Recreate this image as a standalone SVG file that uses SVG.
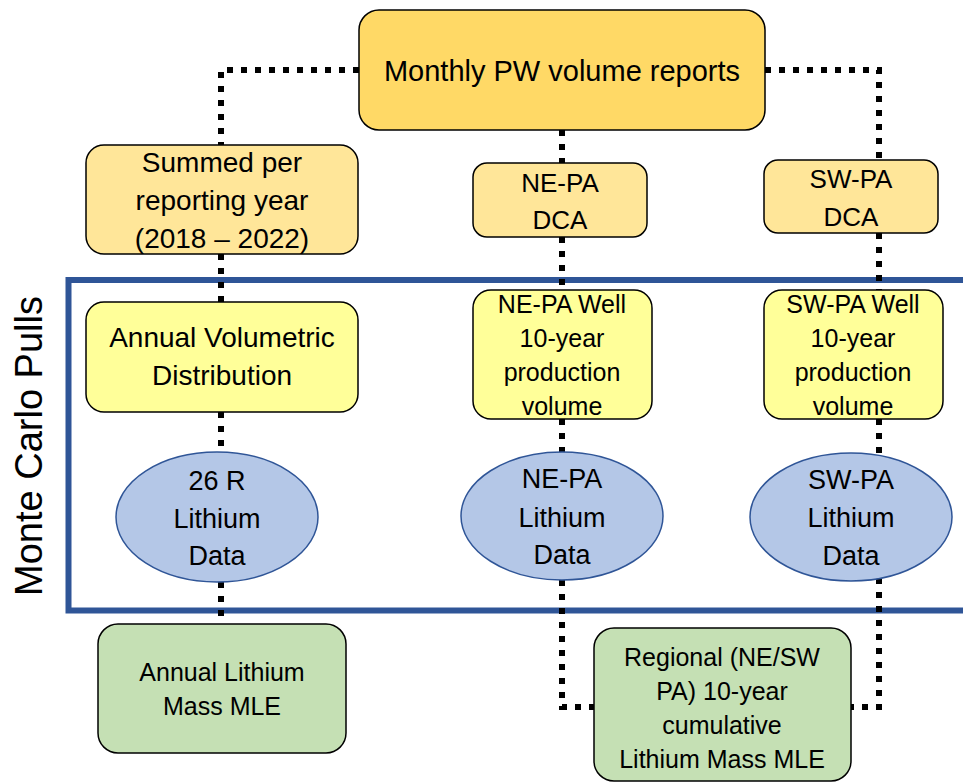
<svg xmlns="http://www.w3.org/2000/svg" width="963" height="783" viewBox="0 0 963 783">
<style>
text{font-family:"Liberation Sans",Arial,sans-serif;fill:#000;text-anchor:middle}
.box{stroke:#000;stroke-width:1.5}
.gold{fill:#FFD966}
.lgold{fill:#FFE699}
.yel{fill:#FFFF99}
.grn{fill:#C5E0B4}
.ell{fill:#B4C7E7;stroke:#2F5597;stroke-width:1.5}
.con{fill:none;stroke:#000;stroke-width:6;stroke-dasharray:6 8}
</style>
<rect id="frame" x="68.5" y="280" width="910" height="330.5" fill="none" stroke="#2F5597" stroke-width="6"/>
<text id="mc-label" transform="translate(42,446) rotate(-90)" font-size="38">Monte Carlo Pulls</text>
<g id="connectors">
<path class="con" d="M359,70 H221 V145"/>
<path class="con" d="M765,70 H879 V160"/>
<path class="con" d="M562,130 V163"/>
<path class="con" d="M221,254 V302"/>
<path class="con" d="M562,237 V290"/>
<path class="con" d="M879,233 V290"/>
<path class="con" d="M221,412 V452"/>
<path class="con" d="M562,419 V452"/>
<path class="con" d="M879,419 V455"/>
<path class="con" d="M221,582 V624"/>
<path class="con" d="M562,580 V707 H594"/>
<path class="con" d="M879,578 V707 H851"/>
</g>
<g id="monthly">
<rect class="box gold" x="359" y="10" width="406" height="120" rx="20"/>
<text x="562" y="81" font-size="29">Monthly PW volume reports</text>
</g>
<g id="summed">
<rect class="box lgold" x="86" y="145" width="272" height="109" rx="18"/>
<text x="222" y="172" font-size="28">Summed per</text>
<text x="222" y="210" font-size="28">reporting year</text>
<text x="222" y="248" font-size="28">(2018 – 2022)</text>
</g>
<g id="ne-dca">
<rect class="box lgold" x="473" y="163" width="174" height="74" rx="14"/>
<text x="560" y="192" font-size="26">NE-PA</text>
<text x="560" y="229" font-size="26">DCA</text>
</g>
<g id="sw-dca">
<rect class="box lgold" x="764" y="160" width="174" height="73" rx="14"/>
<text x="851" y="188" font-size="26">SW-PA</text>
<text x="851" y="226" font-size="26">DCA</text>
</g>
<g id="annual-vol">
<rect class="box yel" x="86" y="302" width="272" height="110" rx="18"/>
<text x="222" y="347" font-size="28">Annual Volumetric</text>
<text x="222" y="385" font-size="28">Distribution</text>
</g>
<g id="ne-well">
<rect class="box yel" x="473" y="290" width="179" height="129" rx="18"/>
<text x="562" y="313" font-size="25">NE-PA Well</text>
<text x="562" y="347" font-size="25">10-year</text>
<text x="562" y="381" font-size="25">production</text>
<text x="562" y="415" font-size="25">volume</text>
</g>
<g id="sw-well">
<rect class="box yel" x="764" y="290" width="179" height="129" rx="18"/>
<text x="853" y="313" font-size="25">SW-PA Well</text>
<text x="853" y="347" font-size="25">10-year</text>
<text x="853" y="381" font-size="25">production</text>
<text x="853" y="415" font-size="25">volume</text>
</g>
<g id="li-26r">
<ellipse class="ell" cx="217" cy="517" rx="101" ry="65"/>
<text x="217" y="490" font-size="27">26 R</text>
<text x="217" y="528" font-size="27">Lithium</text>
<text x="217" y="565" font-size="27">Data</text>
</g>
<g id="li-ne">
<ellipse class="ell" cx="562" cy="516" rx="101" ry="64"/>
<text x="562" y="488" font-size="27">NE-PA</text>
<text x="562" y="527" font-size="27">Lithium</text>
<text x="562" y="564" font-size="27">Data</text>
</g>
<g id="li-sw">
<ellipse class="ell" cx="851" cy="517" rx="101" ry="64"/>
<text x="851" y="489" font-size="27">SW-PA</text>
<text x="851" y="527" font-size="27">Lithium</text>
<text x="851" y="565" font-size="27">Data</text>
</g>
<g id="annual-mle">
<rect class="box grn" x="98" y="624" width="248" height="129" rx="20"/>
<text x="222" y="681" font-size="25">Annual Lithium</text>
<text x="222" y="715" font-size="25">Mass MLE</text>
</g>
<g id="regional-mle">
<rect class="box grn" x="594" y="628" width="257" height="153" rx="20"/>
<text x="722" y="666" font-size="25">Regional (NE/SW</text>
<text x="722" y="700" font-size="25">PA) 10-year</text>
<text x="722" y="734" font-size="25">cumulative</text>
<text x="722" y="768" font-size="25">Lithium Mass MLE</text>
</g>
</svg>
